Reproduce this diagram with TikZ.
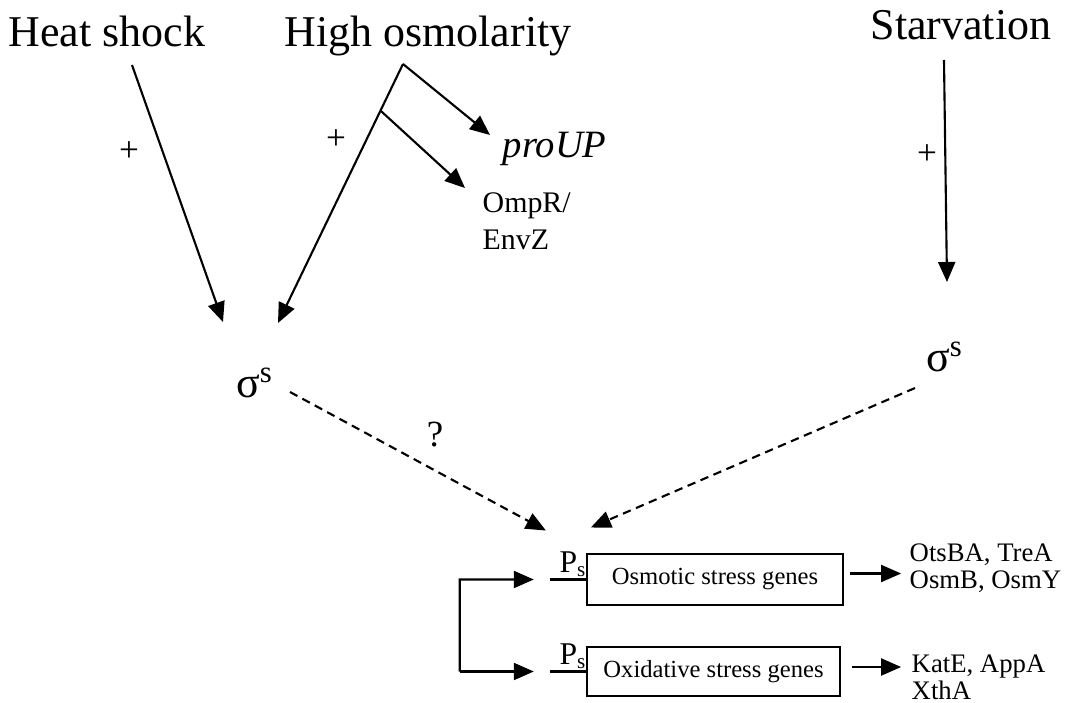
\documentclass[tikz,border=0pt]{standalone}
\usepackage{fontspec}
\setmainfont{Liberation Serif}
\usetikzlibrary{arrows.meta,positioning,calc}

\begin{document}
\begin{tikzpicture}[x=0.01cm,y=-0.01cm,
    arr/.style={-{Triangle[length=0.2cm,width=0.17cm]},line width=0.6pt},
    dasharr/.style={arr,dash pattern=on 2.4pt off 1.6pt},
    big/.style={inner sep=0pt,font=\fontsize{12.5}{14}\selectfont},
    small/.style={inner sep=0pt,align=left,font=\fontsize{7.6}{7.8}\selectfont},
    sign/.style={inner sep=0pt,font=\fontsize{10}{11}\selectfont},
    genebox/.style={draw,line width=0.6pt,inner sep=0pt,minimum width=2.56cm,
      minimum height=0.51cm,font=\fontsize{7}{8}\selectfont}]
  \useasboundingbox (0,0) rectangle (1066,703);
  % stresses
  \node[big,anchor=base] (heat) at (107,47) {Heat shock};
  \node[big,anchor=base] (osmo) at (428,47) {High osmolarity};
  \node[big,anchor=base] (starv) at (961,40) {Starvation};
  % sigma factor
  \node[big] (sigL) at (255,383) {σ\textsuperscript{s}};
  \node[big] (sigR) at (945,357) {σ\textsuperscript{s}};
  \node[inner sep=0pt,anchor=base west,font=\fontsize{11}{12}\selectfont\itshape]
    (proup) at (502,157) {proUP};
  \node[small,anchor=north west,font=\fontsize{8.5}{10.5}\selectfont]
    (ompr) at (482,192) {OmpR/\\EnvZ};
  % target genes
  \node[genebox] (osmbox) at (715,579.5) {Osmotic stress genes};
  \node[genebox,minimum width=2.53cm,minimum height=0.49cm]
    (oxbox) at (713.5,671.5) {Oxidative stress genes};
  \node[inner sep=0pt,anchor=base west,font=\fontsize{9}{10}\selectfont]
    (psA) at ([shift={(-27,-7)}]osmbox.west) {P\textsubscript{s}};
  \node[inner sep=0pt,anchor=base west,font=\fontsize{9}{10}\selectfont]
    (psB) at ([shift={(-27,-7)}]oxbox.west) {P\textsubscript{s}};
  \draw[line width=0.6pt] ([xshift=-0.36cm]osmbox.west) -- (osmbox.west);
  \draw[line width=0.6pt] ([xshift=-0.36cm]oxbox.west) -- (oxbox.west);
  \node[small,anchor=north west] (osmout) at (909,543) {OtsBA, TreA\\OsmB, OsmY};
  \node[small,anchor=north west] (oxout) at (911,654) {KatE, AppA\\XthA};

  % heat shock
  \draw[arr] ([shift={(25,18)}]heat.base) -- ([shift={(-32,-61)}]sigL.center);
  \node[sign] (plusA) at (129,152) {+};
  % high osmolarity
  \coordinate (fork) at ([shift={(-25,17)}]osmo.base);
  \coordinate (osmTip) at ([shift={(23,-60)}]sigL.center);
  \coordinate (fork2) at ($(fork)!0.18!(osmTip)$);
  \draw[arr] (fork) -- (osmTip);
  \draw[arr] (fork) -- ([shift={(-12,-22)}]proup.base west);
  \draw[arr] (fork2) -- ([shift={(-17,-4)}]ompr.north west);
  \node[sign] (plusB) at (336,140) {+};
  % starvation
  \draw[arr] ([shift={(-17,20)}]starv.base) -- ([shift={(2,-75)}]sigR.center);
  \node[sign] (plusC) at (927,155) {+};

  % sigma to promoters
  \draw[dasharr] ([shift={(35,9)}]sigL.center) -- ([shift={(-13,-42)}]psA.base west);
  \draw[dasharr] ([shift={(-30,31)}]sigR.center) -- ([shift={(32,-45)}]psA.base west);
  \node[font=\fontsize{10.5}{12}\selectfont] (query) at (435,435) {?};

  % feedback into both promoters
  \coordinate (fbA) at ([xshift=-1.26cm]osmbox.west);
  \coordinate (fbB) at ([xshift=-1.26cm]oxbox.west);
  \draw[arr] (fbB) -- (fbA) -- ++(74,0);
  \draw[arr] (fbB) -- ++(74,0);
  % products
  \draw[arr] ([shift={(6,-6)}]osmbox.east) -- ++(51,0);
  \draw[arr] ([shift={(11,-4.5)}]oxbox.east) -- ++(49,0);
\end{tikzpicture}
\end{document}
